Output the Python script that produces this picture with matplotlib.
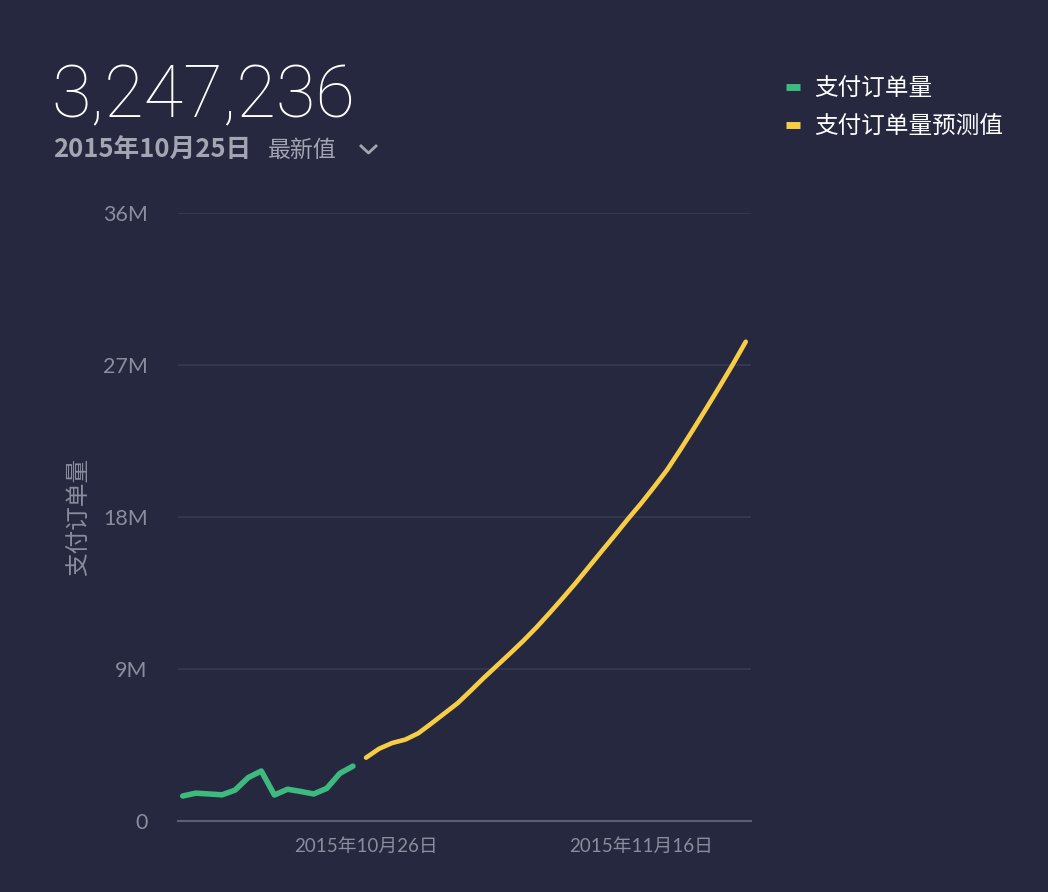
import matplotlib as mpl
from matplotlib import pyplot as plt
from matplotlib.lines import Line2D
import pandas as pd

mpl.rcParams['font.family'] = ['Noto Sans CJK SC', 'DejaVu Sans']

# actual orders (millions), Oct 12 - Oct 25
actual_dates = pd.date_range('2015-10-12', '2015-10-25')
actual_vals = [1.48, 1.65, 1.60, 1.55, 1.83, 2.57, 2.96, 1.54, 1.88, 1.75,
               1.60, 1.93, 2.82, 3.247236]

# forecast (millions), Oct 26 - Nov 24
pred_dates = pd.date_range('2015-10-26', '2015-11-24')
pred_vals = [3.75, 4.28, 4.62, 4.82, 5.20, 5.78, 6.38, 6.98, 7.72, 8.48,
             9.20, 9.92, 10.66, 11.45, 12.30, 13.18, 14.08, 15.03, 15.98, 16.92,
             17.88, 18.80, 19.78, 20.80, 21.98, 23.20, 24.45, 25.72, 27.02, 28.38]

y_ticks = [0, 9, 18, 27, 36]
y_labels = ['0', '9M', '18M', '27M', '36M']
x_ticks = pd.to_datetime(['2015-10-26', '2015-11-16'])
x_labels = ['2015年10月26日', '2015年11月16日']

bg = '#25283f'
green = '#3dba7e'
yellow = '#f7cd46'
gray = '#8a8d9e'
tick_font = ['Lato', 'Noto Sans CJK SC', 'DejaVu Sans']

fig = plt.figure(figsize=(10.48, 8.92), dpi=100, facecolor=bg)
ax = fig.add_axes([0.170, 0.0796, 0.5466, 0.6816], facecolor=bg)

ax.plot(actual_dates, actual_vals, color=green, lw=4, solid_capstyle='round',
        solid_joinstyle='round', label='支付订单量')
ax.plot(pred_dates, pred_vals, color=yellow, lw=3.3, solid_capstyle='round',
        solid_joinstyle='round', label='支付订单量预测值')

start = pd.Timestamp('2015-10-26')
ax.set_xlim(start - pd.Timedelta(days=14.35), start + pd.Timedelta(days=29.4))
ax.set_ylim(0, 36)
ax.set_yticks(y_ticks)
ax.set_yticklabels(y_labels, family=tick_font, fontsize=15.5)
ax.set_xticks(x_ticks)
ax.set_xticklabels(x_labels, family=tick_font, fontsize=13.5)
ax.tick_params(axis='both', length=0, colors=gray)
ax.tick_params(axis='y', pad=22)
ax.tick_params(axis='x', pad=12)

ax.grid(axis='y', color='#363a52', lw=1.2)
ax.set_axisbelow(True)
for s in ['top', 'right', 'left']:
    ax.spines[s].set_visible(False)
ax.spines['bottom'].set_color('#5b5e72')
ax.spines['bottom'].set_linewidth(1.5)

ax.set_ylabel('支付订单量', color=gray, fontsize=17, labelpad=9)

# header
fig.text(51 / 1048, 1 - 117 / 892, '3,247,236', color='white', fontsize=52,
         family=['Roboto', 'DejaVu Sans'], fontweight='light', va='baseline')
fig.text(53 / 1048, 1 - 158 / 892, '2015年10月25日', color='#a3a5b2', fontsize=18.5,
         fontweight='bold', va='baseline')
fig.text(268 / 1048, 1 - 157 / 892, '最新值', color='#a3a5b2', fontsize=16.5, va='baseline')
chev = Line2D([361 / 1048, 368.5 / 1048, 376 / 1048],
              [1 - 146 / 892, 1 - 153 / 892, 1 - 146 / 892],
              transform=fig.transFigure, color='#a3a5b2', lw=2)
fig.add_artist(chev)

leg = fig.legend(loc='upper left', bbox_to_anchor=(765 / 1048, 1 - 56 / 892),
                 frameon=False, fontsize=17, labelcolor='white',
                 handlelength=0.6, handletextpad=0.6, labelspacing=0.65)
for h in leg.legend_handles:
    h.set_linewidth(5)
    h.set_solid_capstyle('butt')

fig.savefig('out.png', dpi=100, facecolor=bg)
